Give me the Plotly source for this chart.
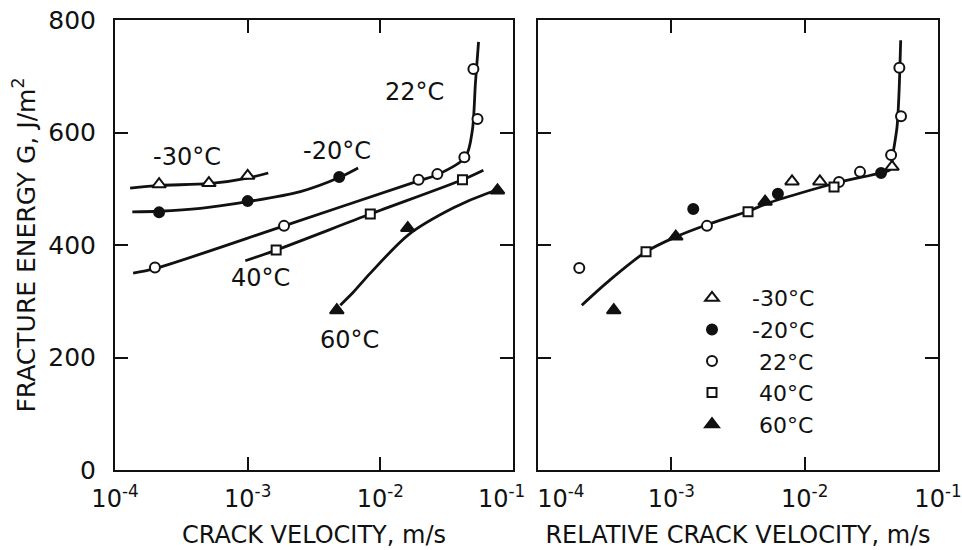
import plotly.graph_objects as go

# ---------------- data ----------------
series_names = ["-30°C", "-20°C", "22°C", "40°C", "60°C"]
legend_names = ["-30°C", "-20°C", "\u00a022°C", "\u00a040°C", "\u00a060°C"]

# Left panel: measured points (crack velocity, m/s ; fracture energy, J/m^2)
L_m30_v = [2.15e-4, 5.1e-4, 1.0e-3]
L_m30_G = [508, 510, 523]
L_m20_v = [2.15e-4, 1.0e-3, 4.9e-3]
L_m20_G = [458, 478, 521]
L_p22_v = [2.0e-4, 1.88e-3, 0.0194, 0.0269, 0.043, 0.054, 0.0503]
L_p22_G = [360, 434, 516, 526, 556, 624, 713]
L_p40_v = [1.64e-3, 8.4e-3, 0.0416]
L_p40_G = [391, 455, 516]
L_p60_v = [4.7e-3, 0.0161, 0.0764]
L_p60_G = [284, 430, 497]

# Left panel: fitted curves
C_m30_v = [1.3e-4, 2.15e-4, 5.1e-4, 1.0e-3, 1.43e-3]
C_m30_G = [501, 506, 509, 519, 528]
C_m20_v = [1.35e-4, 2.15e-4, 4.4e-4, 1.0e-3, 2.5e-3, 4.9e-3, 6.8e-3]
C_m20_G = [459, 460, 465, 477, 495, 520, 537]
C_p22_v = [1.37e-4, 2.0e-4, 1.88e-3, 0.0194, 0.0269, 0.0438, 0.0494, 0.0521, 0.055]
C_p22_G = [350, 358, 434, 514, 525, 556, 604, 688, 761]
C_p40_v = [9.6e-4, 1.64e-3, 8.4e-3, 0.0416, 0.0598]
C_p40_G = [372, 391, 455, 516, 533]
C_p60_v = [4.99e-3, 6.25e-3, 8.41e-3, 0.01626, 0.0356, 0.0643, 0.0764]
C_p60_G = [293, 316, 350, 418, 466, 492, 497]

# Right panel: measured points (relative crack velocity)
R_m30_v = [8.04e-3, 0.013, 0.0452]
R_m30_G = [513, 513, 539]
R_m20_v = [1.46e-3, 6.3e-3, 0.0374]
R_m20_G = [464, 491, 528]
R_p22_v = [2.04e-4, 1.85e-3, 0.0181, 0.026, 0.0445, 0.0528, 0.0513]
R_p22_G = [359, 434, 512, 530, 560, 629, 715]
R_p40_v = [6.46e-4, 3.76e-3, 0.0166]
R_p40_G = [388, 459, 503]
R_p60_v = [3.7e-4, 1.08e-3, 5.05e-3]
R_p60_G = [284, 415, 477]

# Right panel: master curve
C_R_v = [2.13e-4, 3.47e-4, 6.46e-4, 1.07e-3, 1.85e-3, 3.76e-3, 5.25e-3, 9.2e-3,
         0.01845, 0.0368, 0.0437, 0.046, 0.0493, 0.051, 0.0525]
C_R_G = [293, 338, 388, 414, 436, 460, 474, 492, 512, 528, 534, 563, 610, 670, 764]

NB = "\u00a0"
x_tickvals = [1e-4, 1e-3, 1e-2, 1e-1]
x1_ticktext = ["10<sup>-4</sup>", "10<sup>-3</sup>", "10<sup>-2</sup>", "10<sup>-1</sup>" + NB * 3]
x2_ticktext = [NB * 6 + "10<sup>-4</sup>", "10<sup>-3</sup>", "10<sup>-2</sup>", "10<sup>-1</sup>"]
y_tickvals = [0, 200, 400, 600, 800]

# ---------------- styling ----------------
INK = "#111111"
FONT = "DejaVu Sans"
FS = 24

styles = {
    "-30°C": dict(symbol="triangle-up", color="white", size=12),
    "-20°C": dict(symbol="circle", color=INK, size=10),
    "22°C": dict(symbol="circle", color="white", size=10),
    "40°C": dict(symbol="square", color="white", size=9),
    "60°C": dict(symbol="triangle-up", color=INK, size=12),
}

fig = go.Figure()

def add_curve(v, g, xa, ya):
    fig.add_trace(go.Scatter(x=v, y=g, mode="lines", xaxis=xa, yaxis=ya,
                             line=dict(color=INK, width=2.8, shape="spline", smoothing=0.8),
                             showlegend=False, hoverinfo="skip"))

def add_points(v, g, key, label, xa, ya, legend):
    st = styles[key]
    fig.add_trace(go.Scatter(x=v, y=g, mode="markers", name=label, xaxis=xa, yaxis=ya,
                             marker=dict(symbol=st["symbol"], color=st["color"], size=st["size"],
                                         line=dict(color=INK, width=2)),
                             showlegend=legend))

# left curves
for v, g in [(C_m30_v, C_m30_G), (C_m20_v, C_m20_G), (C_p22_v, C_p22_G),
             (C_p40_v, C_p40_G), (C_p60_v, C_p60_G)]:
    add_curve(v, g, "x", "y")
# right curve
add_curve(C_R_v, C_R_G, "x2", "y2")

left_pts = [(L_m30_v, L_m30_G), (L_m20_v, L_m20_G), (L_p22_v, L_p22_G),
            (L_p40_v, L_p40_G), (L_p60_v, L_p60_G)]
right_pts = [(R_m30_v, R_m30_G), (R_m20_v, R_m20_G), (R_p22_v, R_p22_G),
             (R_p40_v, R_p40_G), (R_p60_v, R_p60_G)]
for key, lab, (v, g) in zip(series_names, legend_names, left_pts):
    add_points(v, g, key, lab, "x", "y", False)
for key, lab, (v, g) in zip(series_names, legend_names, right_pts):
    add_points(v, g, key, lab, "x2", "y2", True)

W, H = 962, 550
xdom1 = [115 / W, 513 / W]
xdom2 = [538 / W, 938 / W]
ydom = [(H - 470) / H, (H - 20) / H]

axis_common = dict(showline=True, linewidth=2, linecolor=INK, mirror="ticks",
                   ticks="inside", ticklen=13, tickwidth=2, tickcolor=INK,
                   showgrid=False, zeroline=False, automargin=False)

xtitle_font = dict(family=FONT, size=FS, color=INK)
fig.update_layout(
    width=W, height=H,
    margin=dict(l=0, r=0, t=0, b=0),
    paper_bgcolor="white", plot_bgcolor="white",
    font=dict(family=FONT, size=FS, color=INK),
    xaxis=dict(type="log", range=[-4, -1], domain=xdom1, anchor="y",
               tickvals=x_tickvals, ticktext=x1_ticktext, ticklabelstandoff=6,
               tickfont=dict(family=FONT, size=FS, color=INK),
               title=dict(text="CRACK VELOCITY, m/s", standoff=14, font=xtitle_font),
               **axis_common),
    xaxis2=dict(type="log", range=[-4, -1], domain=xdom2, anchor="y2",
                tickvals=x_tickvals, ticktext=x2_ticktext, ticklabelstandoff=6,
                tickfont=dict(family=FONT, size=FS, color=INK),
                title=dict(text="RELATIVE CRACK VELOCITY, m/s", standoff=14, font=xtitle_font),
                **axis_common),
    yaxis=dict(range=[0, 800], domain=ydom, anchor="x", tickvals=y_tickvals,
               ticklabelstandoff=12, tickfont=dict(family=FONT, size=25, color=INK),
               title=dict(text="FRACTURE ENERGY G, J/m<sup>2</sup>", standoff=6,
                          font=dict(family=FONT, size=25, color=INK)),
               **axis_common),
    yaxis2=dict(range=[0, 800], domain=ydom, anchor="x2", tickvals=y_tickvals,
                showticklabels=False, **axis_common),
    legend=dict(x=672 / W, y=1 - 277 / H, xanchor="left", yanchor="top",
                bgcolor="rgba(0,0,0,0)", font=dict(family=FONT, size=22, color=INK),
                tracegroupgap=0, itemwidth=70),
)

labels = [("-30°C", 187, 157), ("-20°C", 337, 151), ("22°C", 414, 92),
          ("40°C", 260, 278), ("60°C", 349, 340)]
for txt, px, py in labels:
    fig.add_annotation(text=txt, x=px / W, y=1 - py / H, xref="paper", yref="paper",
                       xanchor="center", yanchor="middle", showarrow=False,
                       font=dict(family=FONT, size=FS, color=INK))

fig.write_html("out.html")
